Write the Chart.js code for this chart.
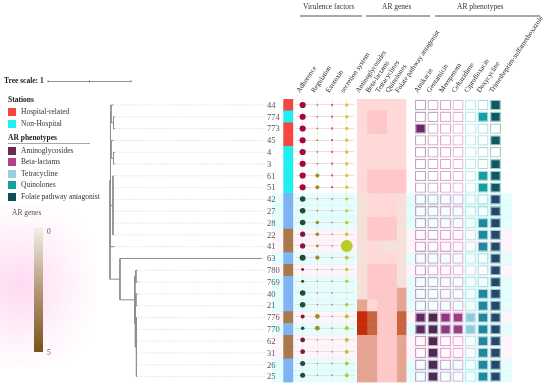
<!DOCTYPE html>
<html lang="en">
<head>
<meta charset="UTF-8" />
<title>Phylogeny with virulence factors, AR genes and AR phenotypes</title>
<script src="https://cdn.jsdelivr.net/npm/chart.js"></script>
<style>
  html, body { margin: 0; padding: 0; background: #fff; }
  #wrap { position: relative; width: 550px; height: 387px; overflow: hidden;
          font-family: "Liberation Serif", "DejaVu Serif", serif; color: #333; }
  #wrap canvas { position: absolute; left: 0; top: 0; }
  .t { position: absolute; white-space: nowrap; font-size: 7.5px; line-height: 8px; }
  .b { font-weight: bold; color: #222; }
  .sw { position: absolute; width: 8px; height: 8px; }
  .rule { position: absolute; height: 1.5px; background: #a8a8a8; }
</style>
</head>
<body>
<div id="wrap">
  <div style="position:absolute;left:0;top:205px;width:96px;height:162px;background:radial-gradient(ellipse at 20% 50%, rgba(255,205,238,0.75), rgba(255,230,246,0.35) 55%, rgba(255,255,255,0) 80%)"></div>
  <canvas id="treeChart" width="550" height="387"></canvas>
  <canvas id="bandChart" width="550" height="387"></canvas>
  <canvas id="stationChart" width="550" height="387"></canvas>
  <canvas id="virChart" width="550" height="387"></canvas>
  <canvas id="heatChart" width="550" height="387"></canvas>
  <canvas id="phenoChart" width="550" height="387"></canvas>

  <!-- group headers -->
  <div class="t" style="left:303px;top:3px">Virulence factors</div>
  <div class="rule" style="left:300px;top:15px;width:62px"></div>
  <div class="t" style="left:382px;top:3px">AR genes</div>
  <div class="rule" style="left:366px;top:15px;width:64px"></div>
  <div class="t" style="left:457px;top:3px">AR phenotypes</div>
  <div class="rule" style="left:435px;top:15px;width:105px"></div>

  <div class="t b" style="left:4px;top:77px">Tree scale: 1</div>

  <!-- legends -->
  <div class="t b" style="left:8px;top:96px">Stations</div>
  <div class="sw" style="left:8px;top:108px;background:#f5473f"></div>
  <div class="t" style="left:21px;top:108px">Hospital-related</div>
  <div class="sw" style="left:8px;top:120px;background:#1ff0ef"></div>
  <div class="t" style="left:21px;top:120px">Non-Hospital</div>

  <div class="t b" style="left:8px;top:134px">AR phenotypes</div>
  <div class="rule" style="left:8px;top:143px;width:82px;height:1px"></div>
  <div class="sw" style="left:8px;top:147px;background:#6a2a52"></div>
  <div class="t" style="left:21px;top:147px">Aminoglycosides</div>
  <div class="sw" style="left:8px;top:158px;background:#b0418c"></div>
  <div class="t" style="left:21px;top:158px">Beta-lactams</div>
  <div class="sw" style="left:8px;top:170px;background:#98d0e2"></div>
  <div class="t" style="left:21px;top:170px">Tetracycline</div>
  <div class="sw" style="left:8px;top:181px;background:#14a0a2"></div>
  <div class="t" style="left:21px;top:181px">Quinolones</div>
  <div class="sw" style="left:8px;top:193px;background:#0e4c5c"></div>
  <div class="t" style="left:21px;top:193px">Folate pathway antagonist</div>

  <div class="t" style="left:12px;top:209px;color:#555">AR genes</div>
  <div style="position:absolute;left:34px;top:228px;width:9px;height:124px;background:linear-gradient(#f2eee8, #b39878 50%, #7a5218)"></div>
  <div class="t" style="left:47px;top:228px;color:#555">0</div>
  <div class="t" style="left:47px;top:349px;color:#a0306a">5</div>
</div>

<script>
// ---- data ----
const isolates = ['44','774','773','45','4','3','61','51','42','27','28','22','41','63','780','769','40','21','776','770','62','31','26','25'];
const stations = ['H','N','H','H','N','N','N','N','N','N','N','H','H','N','H','N','N','N','H','N','H','H','N','N'];
const clusters = ['I','I','I','I','I','I','I','I','II','II','II','II','II','II','II','II','II','II','II','II','II','II','II','II'];

// tree topology: node, parent, branch length (tree scale units)
const treeNodes   = ['root','U','A','44','A2','774','773','B','45','B2','4','3','C','61','51','42','27','28','22','41',
                     'L','63','L2','L3','780','769','L4','L5','40','21','L6','776','770','62','31','26','25'];
const treeParents = [null,'root','U','A','A','A2','A2','U','B','B','B2','B2','U','C','C','C','C','C','C','U',
                     'root','L','L','L2','L3','L3','L2','L4','L5','L5','L4','L6','L6','L6','L6','L6','L6'];
const treeLengths = [0,0.006,0.006,0.03,0.03,0.02,0.02,0.006,0.03,0.03,0.02,0.02,0.03,0.008,0.008,0.008,0.008,0.008,0.008,0.05,
                     0.12,1.71,0.18,0.012,0.02,0.02,0.006,0.006,0.02,0.02,0.012,0.008,0.008,0.008,0.008,0.008,0.008];

// virulence factor gene counts
const virulenceCols = ['Adherence','Regulation','Exotoxin','secretion system'];
const vfAdherence  = [38,38,38,38,38,38,38,38,31,31,31,27,27,36,8,9,31,31,16,13,23,23,25,25];
const vfRegulation = [3,3,3,3,3,3,16,16,3,3,13,13,8,18,2,2,2,2,23,23,2,2,2,2];
const vfExotoxin   = [5,5,5,5,5,5,5,5,3,3,3,3,3,3,3,3,3,3,3,3,3,3,3,3];
const vfSecretion  = [12,12,12,12,12,12,12,12,9,9,12,12,140,16,11,11,1,13,18,18,16,16,16,16];

// AR genes (0-5)
const geneCols = ['Aminoglycosides','Beta-lactams','Tetracyclines','Quinolones','Folate pathway antagonist'];
const geneAmino  = [1,1,1,1,1,1,1,1,0,0,0,0,0,0,0,0,0,3,5,5,3,3,3,3];
const geneBeta   = [1,2,2,1,1,1,2,2,1,1,2,2,1,1,2,2,2,1,4,4,3,3,3,3];
const geneTetra  = [1,2,2,1,1,1,2,2,1,1,2,2,0,1,2,2,2,2,2,2,2,2,2,2];
const geneQuin   = [1,1,1,1,1,1,2,2,1,1,2,2,0,1,2,2,2,2,2,2,2,2,2,2];
const geneFolate = [1,1,1,1,1,1,2,2,0,0,0,0,0,0,0,0,3,3,4,4,3,3,3,3];

// AR phenotypes (1 = resistant)
const phenoCols = ['Amikacin','Gentamicin','Meropenem','Ceftazidime','Ciprofloxacin','Doxycycline','Trimethoprim-sulfamethoxazole'];
const phAmikacin    = [0,0,1,0,0,0,0,0,0,0,0,0,0,0,0,0,0,0,1,1,0,0,0,0];
const phGentamicin  = [0,0,0,0,0,0,0,0,0,0,0,0,0,0,0,0,0,0,1,1,1,1,1,1];
const phMeropenem   = [0,0,0,0,0,0,0,0,0,0,0,0,0,0,0,0,0,0,1,1,0,0,0,0];
const phCeftazidime = [0,0,0,0,0,0,0,0,0,0,0,0,0,0,0,0,0,0,1,1,0,0,0,0];
const phCipro       = [0,0,0,0,0,0,0,0,0,0,0,0,0,0,0,0,0,0,1,1,0,0,0,0];
const phDoxy        = [0,1,0,0,0,0,1,1,0,0,1,1,1,0,0,0,1,1,1,1,1,1,1,1];
const phTrimeth     = [1,1,0,1,0,1,1,1,1,1,1,1,1,1,1,1,1,1,1,1,1,1,1,1];

// ---- layout ----
const W = 550, H = 387;
const ROW_TOP = 99.1, ROW_BOTTOM = 382.5;
const TREE_ROOT_PX = 110, TREE_RIGHT_PX = 265, TREE_UNIT_PX = 83, TREE_MIN = -0.05;
const SERIF = '"Liberation Serif", "DejaVu Serif", serif';

function rowAxis() {
  return {
    type: 'linear', min: -0.5, max: isolates.length - 0.5, reverse: true, offset: false, display: false,
    afterBuildTicks: s => { s.ticks = isolates.map((_, i) => ({ value: i })); }
  };
}
function colAxis(n) {
  return {
    type: 'linear', min: -0.5, max: n - 0.5, offset: false, display: false,
    afterBuildTicks: s => { s.ticks = Array.from({ length: n }, (_, i) => ({ value: i })); }
  };
}
function baseOptions(left, right, xAxis, more) {
  return Object.assign({
    responsive: false, animation: false, devicePixelRatio: 1,
    layout: { padding: { left: left, right: W - right, top: ROW_TOP, bottom: H - ROW_BOTTOM } },
    plugins: { legend: { display: false }, tooltip: { enabled: false } },
    events: [],
    scales: { x: xAxis, y: rowAxis() }
  }, more || {});
}
function columnHeaders(labels) {
  return {
    id: 'columnHeaders',
    afterDraw(chart) {
      const ctx = chart.ctx, xs = chart.scales.x;
      ctx.save();
      ctx.font = '7px ' + SERIF;
      ctx.fillStyle = '#222';
      ctx.textAlign = 'left';
      ctx.textBaseline = 'middle';
      labels.forEach((t, i) => {
        ctx.save();
        ctx.translate(xs.getPixelForValue(i) - 4.5, 92);
        ctx.rotate(-56 * Math.PI / 180);
        ctx.fillText(t, 0, 0);
        ctx.restore();
      });
      ctx.restore();
    }
  };
}

// ---- tree ----
const nodeX = {}, nodeY = {};
const kidsOf = n => treeNodes.filter((m, i) => treeParents[i] === n);
function layoutTree(n, x) {
  nodeX[n] = x;
  const kids = kidsOf(n);
  if (!kids.length) { nodeY[n] = isolates.indexOf(n); return; }
  kids.forEach(k => layoutTree(k, x + treeLengths[treeNodes.indexOf(k)]));
  const ys = kids.map(k => nodeY[k]);
  nodeY[n] = (Math.min(...ys) + Math.max(...ys)) / 2;
}
layoutTree('root', 0);

const treeMax = (TREE_RIGHT_PX - TREE_ROOT_PX) / TREE_UNIT_PX;
const gap = { x: null, y: null };
const treeLine = [], leaderLine = [];
treeNodes.forEach((n, i) => {
  const p = treeParents[i];
  if (p) treeLine.push({ x: nodeX[p], y: nodeY[n] }, { x: nodeX[n], y: nodeY[n] }, gap);
  const kids = kidsOf(n);
  if (kids.length) {
    const ys = kids.map(k => nodeY[k]);
    treeLine.push({ x: nodeX[n], y: Math.min(...ys) }, { x: nodeX[n], y: Math.max(...ys) }, gap);
  } else {
    leaderLine.push({ x: nodeX[n] + 0.015, y: nodeY[n] }, { x: treeMax, y: nodeY[n] }, gap);
  }
});

const tipLabels = {
  id: 'tipLabels',
  afterDraw(chart) {
    const { ctx, chartArea, scales } = chart;
    ctx.save();
    ctx.font = '8.5px ' + SERIF;
    ctx.fillStyle = '#555';
    ctx.textAlign = 'left';
    ctx.textBaseline = 'middle';
    isolates.forEach((t, i) => ctx.fillText(t, chartArea.right + 2, scales.y.getPixelForValue(i) + 0.5));
    // tree scale bar, one unit long
    const unit = scales.x.getPixelForValue(1) - scales.x.getPixelForValue(0);
    const x0 = 48, y0 = 81.5;
    ctx.strokeStyle = '#777';
    ctx.lineWidth = 0.8;
    ctx.beginPath();
    ctx.moveTo(x0, y0); ctx.lineTo(x0 + unit, y0);
    [0, 0.5, 1].forEach(f => { ctx.moveTo(x0 + unit * f, y0 - 1.5); ctx.lineTo(x0 + unit * f, y0 + 1); });
    ctx.stroke();
    ctx.restore();
  }
};

new Chart(document.getElementById('treeChart'), {
  type: 'line',
  data: { datasets: [
    { data: treeLine, borderColor: '#8c8c8c', borderWidth: 1, pointRadius: 0, spanGaps: false },
    { data: leaderLine, borderColor: '#c9c9c9', borderWidth: 0.8, borderDash: [1, 1.8], pointRadius: 0, spanGaps: false }
  ] },
  options: baseOptions(TREE_ROOT_PX + TREE_MIN * TREE_UNIT_PX, TREE_RIGHT_PX,
    { type: 'linear', min: TREE_MIN, max: treeMax, display: false }),
  plugins: [tipLabels]
});

// ---- row tint bands (cluster II) ----
const fullRow = isolates.map((_, i) => ({ y: i, x: [0, 1] }));
new Chart(document.getElementById('bandChart'), {
  type: 'bar',
  data: { datasets: [{
    data: fullRow,
    backgroundColor: isolates.map((_, i) => clusters[i] === 'I' ? 'rgba(0,0,0,0)'
      : (stations[i] === 'H' ? 'rgba(255,130,205,0.09)' : 'rgba(0,235,235,0.1)')),
    borderWidth: 0, barPercentage: 1, categoryPercentage: 1
  }] },
  options: baseOptions(272, 512, { type: 'linear', min: 0, max: 1, display: false }, { indexAxis: 'y' })
});

// ---- stations strip ----
const stationColor = i => clusters[i] === 'I'
  ? (stations[i] === 'H' ? '#f5473f' : '#1ff0ef')
  : (stations[i] === 'H' ? '#a8794c' : '#80b3f4');
new Chart(document.getElementById('stationChart'), {
  type: 'bar',
  data: { datasets: [{
    data: fullRow,
    backgroundColor: isolates.map((_, i) => stationColor(i)),
    borderWidth: 0, barPercentage: 1, categoryPercentage: 1
  }] },
  options: baseOptions(283.3, 293.3, { type: 'linear', min: 0, max: 1, display: false }, { indexAxis: 'y' })
});

// ---- virulence factors ----
const vfSeries = [vfAdherence, vfRegulation, vfExotoxin, vfSecretion];
const vfColor = [
  i => clusters[i] === 'I' ? '#a3093c' : (stations[i] === 'H' ? '#7a1a3e' : '#1d4b3c'),
  i => '#9a9228',
  i => clusters[i] === 'I' ? '#e0507a' : '#9a9a9a',
  i => clusters[i] === 'I' ? '#e8c427' : '#b9cc2a'
];
const virX = colAxis(4);
virX.display = true;
virX.ticks = { display: false };
virX.border = { display: false };
virX.grid = { drawTicks: false, color: '#eee8e8', lineWidth: 0.8 };
const virOpts = baseOptions(295.3, 354.1, virX);
virOpts.scales.y.display = true;
virOpts.scales.y.ticks = { display: false };
virOpts.scales.y.border = { display: false };
virOpts.scales.y.grid = { drawTicks: false, lineWidth: 0.8,
  color: c => (c.tick && c.tick.value < 8) ? '#eed6dc' : '#dcdcdc' };
new Chart(document.getElementById('virChart'), {
  type: 'bubble',
  data: { datasets: vfSeries.map((vals, c) => ({
    data: vals.map((v, i) => ({ x: c, y: i, r: 0.5 * Math.sqrt(v) })),
    backgroundColor: vals.map((v, i) => vfColor[c](i)),
    borderWidth: 0
  })) },
  options: virOpts,
  plugins: [columnHeaders(virulenceCols)]
});

// ---- AR genes heatmap ----
const heatStops = ['#f6e0da', '#ffd8d8', '#ffc8c8', '#e6a592', '#c8643e', '#c42c0a'];
const heatColor = v => heatStops[Math.max(0, Math.min(5, Math.round(v)))];
const geneSeries = [geneAmino, geneBeta, geneTetra, geneQuin, geneFolate];
new Chart(document.getElementById('heatChart'), {
  type: 'bar',
  data: { datasets: geneSeries.map((vals, c) => ({
    data: vals.map((v, i) => ({ y: i, x: [c - 0.5, c + 0.5] })),
    backgroundColor: vals.map(heatColor),
    borderWidth: 0, barPercentage: 1, categoryPercentage: 1, grouped: false
  })) },
  options: baseOptions(357, 406.5, colAxis(5), { indexAxis: 'y' }),
  plugins: [columnHeaders(geneCols)]
});

// ---- AR phenotypes grid ----
const phenoSeries = [phAmikacin, phGentamicin, phMeropenem, phCeftazidime, phCipro, phDoxy, phTrimeth];
const phenoFillI  = ['#6b2a66', '#55265a', '#8e3a80', '#9a3c82', '#94cce0', '#14a0a2', '#0c5962'];
const phenoFillII = ['#5c2a5e', '#4b2a52', '#8a3a7e', '#9a3e84', '#90c8dc', '#2386a0', '#25476b'];
const phenoEdge   = ['#c4a2c0', '#c8a8c2', '#e2a8d2', '#e4b0d6', '#bdeaea', '#a6dcdc', '#9ecccc'];
new Chart(document.getElementById('phenoChart'), {
  type: 'bar',
  data: { datasets: phenoSeries.map((vals, c) => ({
    data: vals.map((v, i) => ({ y: i, x: [c - 0.44, c + 0.44] })),
    backgroundColor: vals.map((v, i) => v ? (clusters[i] === 'I' ? phenoFillI[c] : phenoFillII[c])
      : (clusters[i] === 'I' ? '#ffffff' : 'rgba(255,255,255,0.6)')),
    borderColor: phenoEdge[c], borderWidth: 1.3, borderSkipped: false,
    barPercentage: 0.88, categoryPercentage: 1, grouped: false
  })) },
  options: baseOptions(414.25, 501.75, colAxis(7), { indexAxis: 'y' }),
  plugins: [columnHeaders(phenoCols)]
});
</script>
</body>
</html>
